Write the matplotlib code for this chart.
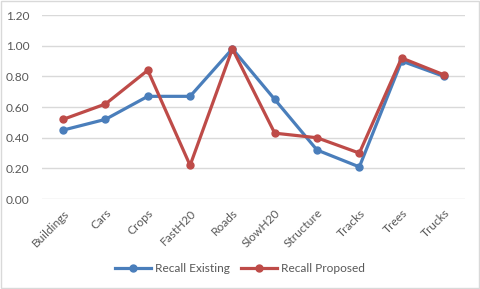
import matplotlib
matplotlib.use('Agg')
import matplotlib.pyplot as plt
from matplotlib.patches import Rectangle

categories = ['Buildings', 'Cars', 'Crops', 'FastH20', 'Roads', 'SlowH20',
              'Structure', 'Tracks', 'Trees', 'Trucks']
recall_existing = [0.45, 0.52, 0.67, 0.67, 0.98, 0.65, 0.32, 0.21, 0.90, 0.80]
recall_proposed = [0.52, 0.62, 0.84, 0.22, 0.98, 0.43, 0.40, 0.30, 0.92, 0.81]
y_ticks = [0.0, 0.2, 0.4, 0.6, 0.8, 1.0, 1.2]

plt.rcParams['font.family'] = ['Lato', 'DejaVu Sans']
text_color = '#595959'
fs = 8.6

fig = plt.figure(figsize=(4.8, 2.89), dpi=100)
ax = fig.add_axes([0.0875, 0.311, 0.8815, 0.637])

x = list(range(len(categories)))
ax.plot(x, recall_existing, color='#4A7EBB', lw=2.3, marker='o', ms=5,
        label='Recall Existing', zorder=3)
ax.plot(x, recall_proposed, color='#BE4B48', lw=2.3, marker='o', ms=5,
        label='Recall Proposed', zorder=4)

ax.set_xlim(-0.5, len(categories) - 0.5)
ax.set_ylim(0, 1.2)
ax.set_yticks(y_ticks)
ax.set_yticklabels([f'{v:.2f}' for v in y_ticks], color=text_color, fontsize=fs)
ax.set_xticks(x)
ax.set_xticklabels(categories, rotation=45, ha='right', rotation_mode='anchor',
                   color=text_color, fontsize=fs)
ax.tick_params(axis='both', length=0)
ax.tick_params(axis='y', pad=9)
ax.tick_params(axis='x', pad=6)
ax.grid(axis='y', color='#D9D9D9', lw=1)
ax.set_axisbelow(True)
for s in ax.spines.values():
    s.set_visible(False)

leg = fig.legend(loc='center', bbox_to_anchor=(0.5, 0.07), ncol=2, frameon=False,
                 fontsize=fs, handlelength=3, columnspacing=1.0, handletextpad=0.3)
for t in leg.get_texts():
    t.set_color(text_color)

fig.patches.append(Rectangle((0.002, 0.003), 0.995, 0.993, transform=fig.transFigure,
                             fill=False, edgecolor='#D9D9D9', lw=1))

fig.savefig('out.png', dpi=100)
